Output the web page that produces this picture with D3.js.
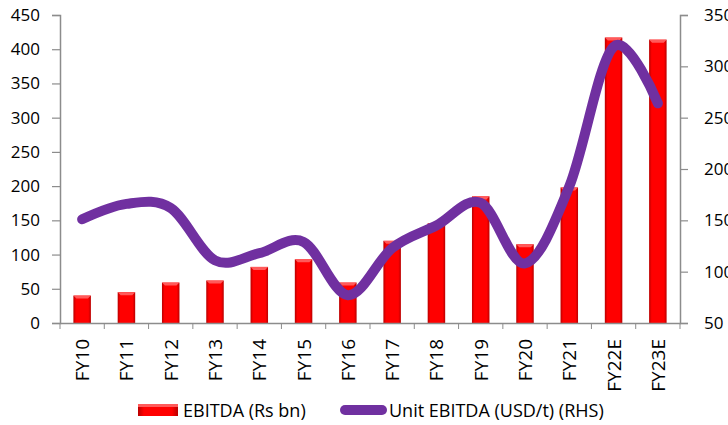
<!DOCTYPE html>
<html>
<head>
<meta charset="utf-8">
<script src="https://cdn.jsdelivr.net/npm/d3@7"></script>
<style>
  body { margin: 0; background: #fff; }
  text { font-family: "Open Sans", sans-serif; fill: #000; }
</style>
</head>
<body>
<svg width="728" height="425"></svg>
<script>
var categories = ["FY10", "FY11", "FY12", "FY13", "FY14", "FY15", "FY16", "FY17", "FY18", "FY19", "FY20", "FY21", "FY22E", "FY23E"];
var ebitda = [40, 45, 59, 62, 82, 93, 59, 120, 146, 185, 115, 198, 417, 414];
var unitEbitda = [151, 166, 162, 111, 118, 129, 77, 123, 145, 167, 108, 183, 319, 264];
var leftTicks = [0, 50, 100, 150, 200, 250, 300, 350, 400, 450];
var rightTicks = [50, 100, 150, 200, 250, 300, 350];

var svg = d3.select("svg"),
    plotL = 60, plotR = 680, plotT = 15, plotB = 323;

var xb = d3.scaleBand().domain(categories).range([plotL, plotR]);
var y = d3.scaleLinear().domain([0, 450]).range([plotB, plotT]);
var y2 = d3.scaleLinear().domain([50, 350]).range([plotB, plotT]);

var defs = svg.append("defs");
var grad = defs.append("linearGradient").attr("id", "barGrad").attr("x1", 0).attr("x2", 1).attr("y1", 0).attr("y2", 0);
grad.append("stop").attr("offset", "0%").attr("stop-color", "#b80000");
grad.append("stop").attr("offset", "15%").attr("stop-color", "#ff0000");
grad.append("stop").attr("offset", "85%").attr("stop-color", "#ff0000");
grad.append("stop").attr("offset", "100%").attr("stop-color", "#b80000");

// bars
var bw = 17.5;
svg.selectAll(".bar")
  .data(ebitda)
  .enter().append("rect")
  .attr("class", "bar")
  .attr("x", function(d, i) { return xb(categories[i]) + xb.bandwidth() / 2 - bw / 2; })
  .attr("y", function(d) { return y(d); })
  .attr("width", bw)
  .attr("height", function(d) { return plotB - y(d); })
  .attr("fill", "url(#barGrad)");

// top bevel highlight
svg.selectAll(".bevel")
  .data(ebitda)
  .enter().append("path")
  .attr("class", "bevel")
  .attr("d", function(d, i) {
    var cx = xb(categories[i]) + xb.bandwidth() / 2, t = y(d);
    return "M" + (cx - bw / 2) + "," + t + "L" + (cx + bw / 2) + "," + t +
      "L" + (cx + bw / 2 - 3) + "," + (t + 3) + "L" + (cx - bw / 2 + 3) + "," + (t + 3) + "Z";
  })
  .attr("fill", "#ff5a5a");

// axes
var axisColor = "#8c8c8c";
var gl = svg.append("g").attr("transform", "translate(" + plotL + ",0)")
  .call(d3.axisLeft(y).tickValues(leftTicks).tickSize(8).tickPadding(12));
var gr = svg.append("g").attr("transform", "translate(" + plotR + ",0)")
  .call(d3.axisRight(y2).tickValues(rightTicks).tickSize(8).tickPadding(16));
var gx = svg.append("g").attr("transform", "translate(0," + plotB + ")")
  .call(d3.axisBottom(xb).tickSize(0).tickFormat(""));
gx.selectAll(".edge")
  .data(d3.range(categories.length + 1))
  .enter().append("line")
  .attr("class", "edge")
  .attr("x1", function(i) { return plotL + i * xb.step(); })
  .attr("x2", function(i) { return plotL + i * xb.step(); })
  .attr("y1", 0).attr("y2", 6)
  .attr("stroke", axisColor);

[gl, gr, gx].forEach(function(g) {
  g.select(".domain").attr("stroke", axisColor).attr("stroke-width", 1.5);
  g.selectAll(".tick line").attr("stroke", axisColor).attr("stroke-width", 1.2);
  g.selectAll(".tick text").style("font-size", "17px").attr("fill", "#000");
});

svg.selectAll(".xlabel")
  .data(categories)
  .enter().append("text")
  .attr("class", "xlabel")
  .attr("transform", function(d) { return "translate(" + (xb(d) + xb.bandwidth() / 2 + 7) + ",339) rotate(-90)"; })
  .attr("text-anchor", "end")
  .style("font-size", "19px")
  .text(function(d) { return d; });

// line
var line = d3.line()
  .x(function(d, i) { return xb(categories[i]) + xb.bandwidth() / 2; })
  .y(function(d) { return y2(d); })
  .curve(d3.curveCardinal);
svg.append("path")
  .datum(unitEbitda)
  .attr("d", line)
  .attr("fill", "none")
  .attr("stroke", "#7030a0")
  .attr("stroke-width", 10)
  .attr("stroke-linecap", "round")
  .attr("stroke-linejoin", "round");

// legend
var lg = svg.append("g");
lg.append("rect").attr("x", 138).attr("y", 404).attr("width", 40).attr("height", 12).attr("fill", "url(#barGrad)");
lg.append("rect").attr("x", 138).attr("y", 404).attr("width", 40).attr("height", 3).attr("fill", "#ff5a5a");
lg.append("text").attr("x", 183).attr("y", 417).style("font-size", "18px").text("EBITDA (Rs bn)");
lg.append("line").attr("x1", 345).attr("x2", 382).attr("y1", 410).attr("y2", 410)
  .attr("stroke", "#7030a0").attr("stroke-width", 10).attr("stroke-linecap", "round");
lg.append("text").attr("x", 389).attr("y", 417).style("font-size", "18px").text("Unit EBITDA (USD/t) (RHS)");
</script>
</body>
</html>
